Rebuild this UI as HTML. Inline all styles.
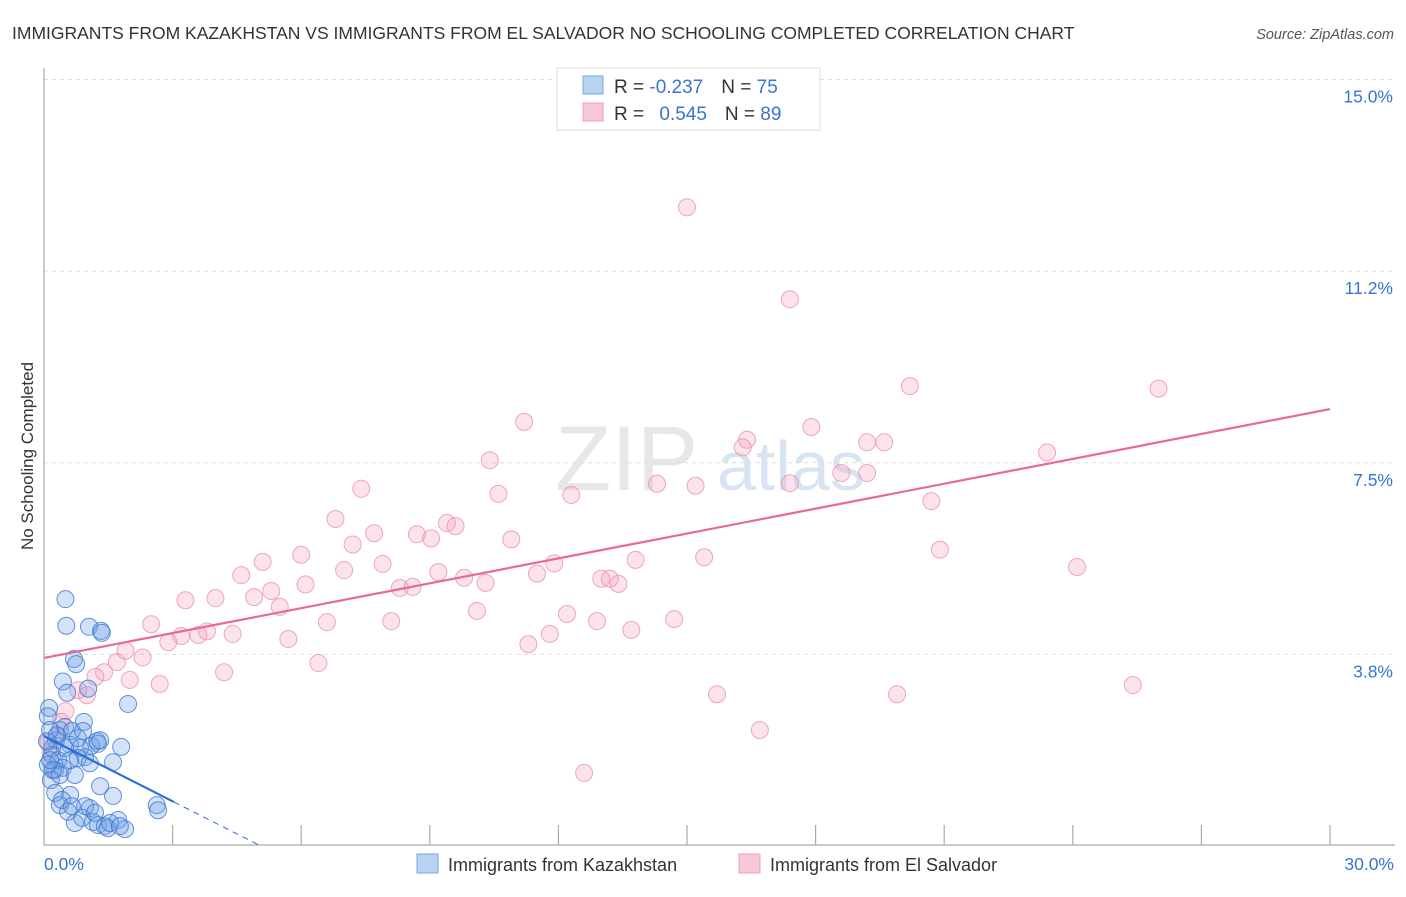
<!DOCTYPE html>
<html><head><meta charset="utf-8"><style>
body{margin:0;background:#fff;font-family:"Liberation Sans",sans-serif;}
svg text{font-family:"Liberation Sans",sans-serif;}
</style></head><body>
<svg id="chart" width="1406" height="892" xmlns="http://www.w3.org/2000/svg">
<text x="12" y="39" font-size="17.5" fill="#333">IMMIGRANTS FROM KAZAKHSTAN VS IMMIGRANTS FROM EL SALVADOR NO SCHOOLING COMPLETED CORRELATION CHART</text>
<text x="1394" y="39" font-size="14.5" fill="#555" font-style="italic" text-anchor="end">Source: ZipAtlas.com</text>
<text transform="translate(33,456) rotate(-90)" font-size="17" fill="#333" text-anchor="middle">No Schooling Completed</text>
<g>
<text x="555" y="490" font-size="92" fill="#ddd" font-family="Liberation Serif" opacity="0.7">ZIP</text>
<text x="717" y="490" font-size="70" fill="#c8daf0" opacity="0.7">atlas</text>
</g>
<g id="grid"></g>
<g id="axes"></g>
<g id="pts"></g>
<g id="lines"></g>
<g>
<rect x="557" y="68" width="263" height="62" fill="#fff" stroke="#ddd"/>
<rect x="583" y="76" width="20" height="18" fill="#b8d2f4" stroke="#7aa6e0"/>
<text x="614" y="93" font-size="19" fill="#333">R = <tspan fill="#3a74d0">-0.237</tspan><tspan dx="18" fill="#333">N = </tspan><tspan fill="#3a74d0">75</tspan></text>
<rect x="583" y="103" width="20" height="18" fill="#f9c8d6" stroke="#eba0b8"/>
<text x="614" y="120" font-size="19" fill="#333">R = <tspan dx="10" fill="#3a74d0">0.545</tspan><tspan dx="18" fill="#333">N = </tspan><tspan fill="#3a74d0">89</tspan></text>
</g>
<g>
<rect x="417" y="854" width="21" height="19" fill="#b8d2f4" stroke="#7aa6e0"/>
<text x="448" y="871" font-size="18" fill="#333">Immigrants from Kazakhstan</text>
<rect x="739" y="854" width="21" height="19" fill="#f9c8d6" stroke="#eba0b8"/>
<text x="770" y="871" font-size="18" fill="#333">Immigrants from El Salvador</text>
</g>
</svg>
<script>
const yTicks=[3.75,7.5,11.25,15];
const yTickLabels=["3.8%","7.5%","11.2%","15.0%"];
const xEndLabels=["0.0%","30.0%"];
const pinkX=[15.0,17.4,20.2,26.0,11.2,17.9,16.4,19.2,19.6,23.4,10.4,16.3,19.2,18.6,7.4,10.6,14.3,15.2,12.3,17.4,20.7,6.8,9.4,9.6,8.7,7.7,9.03,10.9,7.2,6.0,5.1,4.6,15.4,13.8,11.9,20.9,24.1,7.0,7.9,9.2,9.8,10.3,11.5,13.0,13.2,13.4,5.3,6.1,4.9,4.0,3.3,8.3,8.6,5.5,10.1,12.2,12.9,14.7,6.6,8.1,2.5,11.8,13.7,3.8,4.4,3.2,3.6,2.9,5.7,11.3,6.4,2.3,1.7,1.9,4.2,1.4,1.2,2.0,2.7,0.8,1.0,15.7,19.9,25.4,16.7,12.6,0.5,0.4,0.3,0.1,0.2,0.15];
const pinkY=[12.5,10.7,9.0,8.95,8.3,8.2,7.95,7.9,7.9,7.7,7.55,7.8,7.3,7.3,6.99,6.89,7.09,7.05,6.87,7.1,6.75,6.4,6.32,6.26,6.1,6.12,6.02,6.0,5.9,5.7,5.56,5.3,5.65,5.6,5.53,5.8,5.46,5.4,5.52,5.36,5.25,5.15,5.33,5.23,5.23,5.13,4.99,5.12,4.87,4.85,4.81,5.05,5.07,4.68,4.6,4.54,4.4,4.44,4.38,4.4,4.34,4.15,4.23,4.2,4.15,4.11,4.13,3.99,4.05,3.95,3.58,3.69,3.6,3.82,3.4,3.4,3.31,3.25,3.17,3.05,2.95,2.97,2.97,3.15,2.27,1.43,2.64,2.43,2.15,2.04,1.49,1.84];
const blueX=[0.5,0.52,1.05,1.33,1.35,0.7,0.75,0.44,0.54,1.03,1.96,0.12,0.09,0.93,0.49,0.37,0.65,1.1,1.24,1.26,1.8,0.28,0.19,0.61,0.84,0.96,0.19,0.33,0.79,1.61,1.07,0.26,0.44,0.72,0.16,0.26,0.61,1.31,1.61,0.37,1.07,0.56,0.72,0.89,1.14,1.26,1.42,1.49,1.73,1.89,2.63,2.66,0.09,0.21,0.07,0.14,0.96,0.42,1.54,1.77,1.19,0.65,0.3,0.49,0.79,1.31,0.37,0.61,0.91,0.14];
const blueY=[4.83,4.31,4.29,4.21,4.17,3.66,3.56,3.22,3.0,3.08,2.78,2.7,2.54,2.43,2.33,2.27,2.25,1.96,2.05,2.0,1.94,2.07,1.92,1.98,1.92,1.74,1.78,1.68,1.72,1.64,1.62,1.49,1.53,1.39,1.29,1.04,1.0,1.17,0.98,0.8,0.74,0.67,0.45,0.55,0.47,0.41,0.39,0.35,0.51,0.33,0.8,0.7,1.59,1.49,2.05,1.68,0.78,0.9,0.45,0.39,0.65,0.78,2.17,1.92,2.11,2.07,1.39,1.68,2.25,2.27];
const pinkTrend=[3.68,8.55];
const blueTrend=[2.15,-0.425];
const NS="http://www.w3.org/2000/svg";
const X=v=>44+v*(1330-44)/30, Y=v=>846-v*51.1;
function mk(tag,attrs,parent){const e=document.createElementNS(NS,tag);for(const k in attrs)e.setAttribute(k,attrs[k]);document.getElementById(parent).appendChild(e);return e;}
yTicks.forEach((t,i)=>{
 const g=mk('line',{x1:44,x2:1395,y1:Y(t),y2:Y(t),stroke:'#ddd','stroke-dasharray':'4,4'},'grid');
 
 
 const l=mk('text',{x:1393,y:Y(t)+23,'font-size':17.5,fill:'#3a74d0','text-anchor':'end'},'grid');
 l.textContent=yTickLabels[i];
 
 
});
const ax=mk('path',{d:'M44,68V845H1395',fill:'none',stroke:'#aaa','stroke-width':1.2},'axes');


for(let i=1;i<=10;i++){
 const t=mk('line',{x1:X(i*3),x2:X(i*3),y1:825,y2:845,stroke:'#aaa','stroke-width':1.2},'axes');
 
 
}
[[0,'start',44],[30,'end',1394]].forEach((d,i)=>{
 const l=mk('text',{x:d[2],y:870,'font-size':17.5,fill:'#3a74d0','text-anchor':d[1]},'axes');
 l.textContent=xEndLabels[i];
 
 
});
pinkX.forEach((x,i)=>{
 const c=mk('circle',{cx:X(x),cy:Y(pinkY[i]),r:8.5,fill:'rgba(244,160,188,0.3)',stroke:'rgba(232,140,170,0.75)','stroke-width':1},'pts');
 
 
});
blueX.forEach((x,i)=>{
 const c=mk('circle',{cx:X(x),cy:Y(blueY[i]),r:8.5,fill:'rgba(110,160,230,0.3)',stroke:'rgba(60,120,210,0.8)','stroke-width':1},'pts');
 
 
});
const pl=mk('line',{x1:X(0),y1:Y(pinkTrend[0]),x2:X(30),y2:Y(pinkTrend[1]),stroke:'#e86a94','stroke-width':2.2},'lines');


const bEnd=3.03, bDash=-blueTrend[0]/blueTrend[1];
const bl=mk('line',{x1:X(0),y1:Y(blueTrend[0]),x2:X(bEnd),y2:Y(blueTrend[0]+blueTrend[1]*bEnd),stroke:'#2a6fd6','stroke-width':2.2},'lines');


const bd=mk('line',{x1:X(bEnd),y1:Y(blueTrend[0]+blueTrend[1]*bEnd),x2:X(bDash),y2:Y(0),stroke:'#2a6fd6','stroke-width':1,'stroke-dasharray':'6,5'},'lines');


</script>
</body></html>
